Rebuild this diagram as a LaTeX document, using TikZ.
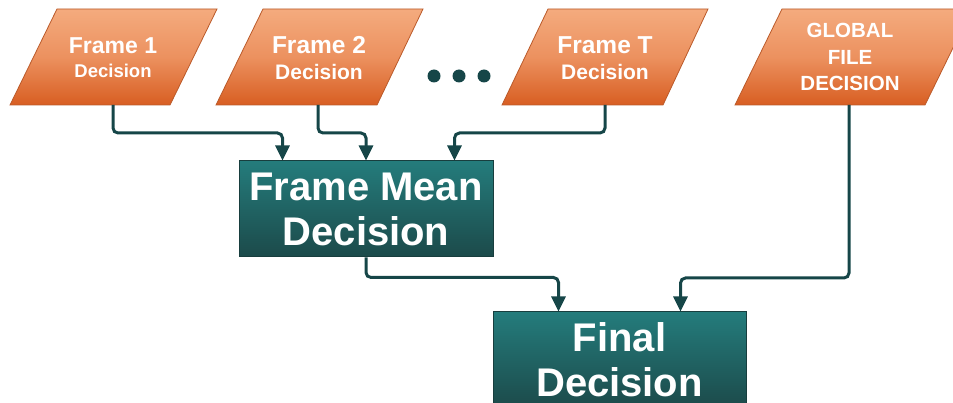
\documentclass[tikz,border=0pt]{standalone}
\usepackage{fontspec}
\setmainfont{Liberation Sans}
\usetikzlibrary{arrows.meta,calc}

\definecolor{orTop}{RGB}{244,171,126}
\definecolor{orMid}{RGB}{236,145,95}
\definecolor{orBot}{RGB}{216,94,34}
\definecolor{orLine}{RGB}{186,90,42}
\definecolor{tlTop}{RGB}{36,124,124}
\definecolor{tlBot}{RGB}{28,74,74}
\definecolor{tlLine}{RGB}{24,62,62}
\definecolor{conn}{RGB}{22,70,72}

\tikzset{
  inputshape/.style={draw=orLine, line width=0.8pt, top color=orTop, bottom color=orBot, middle color=orMid},
  inputtext/.style={text=white, align=center, inner sep=0pt},
  procbox/.style={draw=tlLine, line width=1pt, top color=tlTop, bottom color=tlBot,
    text=white, font=\bfseries\fontsize{40}{45}\selectfont, align=center,
    inner sep=0pt, minimum height=96pt},
  conn/.style={draw=conn, line width=3pt, rounded corners=5pt,
    -{Triangle[width=14pt,length=15pt]}},
  dot/.style={circle, fill=conn, inner sep=0pt, minimum size=13pt}
}

\begin{document}
\begin{tikzpicture}[x=1pt,y=-1pt]
\useasboundingbox (0,0) rectangle (953,403);

% input parallelograms
\path[inputshape] (57,9) -- (217,9) -- (170,105) -- (10,105) -- cycle;
\path[inputshape] (263,9) -- (423,9) -- (377,105) -- (216,105) -- cycle;
\path[inputshape] (548,9) -- (708,9) -- (663,105) -- (502,105) -- cycle;
\path[inputshape] (782,9) -- (972,9) -- (925,105) -- (735,105) -- cycle;

\node[inputtext, font=\bfseries\fontsize{23}{24}\selectfont] (f1) at (113,58)
  {Frame 1\\\fontsize{18.5}{24}\selectfont Decision};
\node[inputtext, font=\bfseries\fontsize{24.5}{26}\selectfont] (f2) at (319,58)
  {Frame 2\\\fontsize{21}{26}\selectfont Decision};
\node[inputtext, font=\bfseries\fontsize{24.5}{26}\selectfont] (fT) at (605,58)
  {Frame T\\\fontsize{21}{26}\selectfont Decision};
\node[inputtext, font=\bfseries\fontsize{20.5}{26.7}\selectfont] (g) at (850,57)
  {GLOBAL\\FILE\\DECISION};

% ellipsis between frames
\node[dot] (d1) at (434,76) {};
\node[dot] (d2) at (459,76) {};
\node[dot] (d3) at (484,76) {};

% processing boxes
\node[procbox, minimum width=254pt] (fm) at (366,209) {Frame Mean\\Decision};
\node[procbox, minimum width=253pt] (fd) at (619.5,360) {Final\\Decision};

% connector start points on the parallelogram bases
\coordinate (f1b) at (113,105);
\coordinate (f2b) at (318,105);
\coordinate (fTb) at (605,105);
\coordinate (gb) at (849,105);

\draw[conn] (f1b) -- ++(0,28) -| ([xshift=44pt]fm.north west);
\draw[conn] (f2b) -- ++(0,28) -| (fm.north);
\draw[conn] (fTb) -- ++(0,28) -| ([xshift=216pt]fm.north west);
\draw[conn] (fm.south) -- ++(0,20) -| ([xshift=66pt]fd.north west);
\draw[conn] (gb) -- ++(0,173) -| ([xshift=188pt]fd.north west);
\end{tikzpicture}
\end{document}
